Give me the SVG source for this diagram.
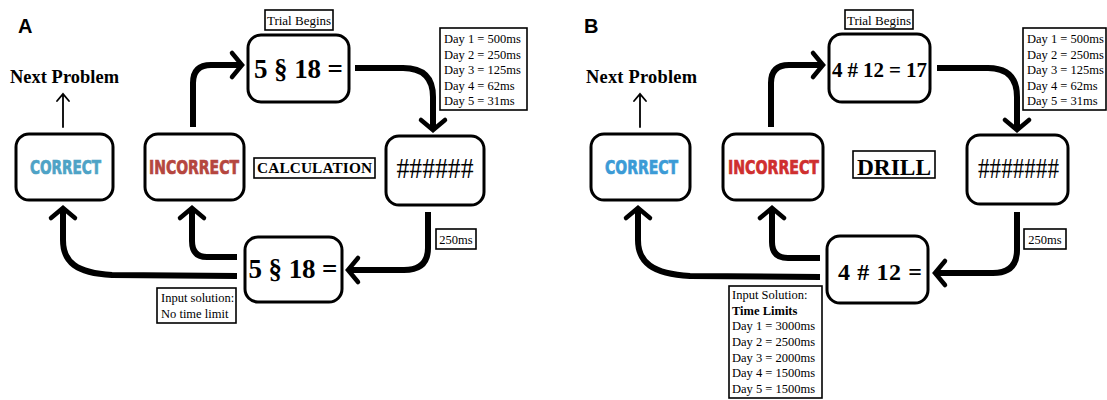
<svg xmlns="http://www.w3.org/2000/svg" width="1107" height="400" viewBox="0 0 1107 400">
<style>
.bg{fill:#fff}
.node{fill:#fff;stroke:#000;stroke-width:3}
.lbl{fill:#fff;stroke:#000;stroke-width:1.6}
.conn{fill:none;stroke:#000;stroke-width:6;stroke-linecap:butt;stroke-linejoin:round}
.thin{fill:none;stroke:#000;stroke-width:1.8;stroke-linecap:round}
.panel{font-family:"Liberation Sans",Arial,sans-serif;font-weight:bold;font-size:20px;fill:#000}
.serif{font-family:"Liberation Serif","Times New Roman",serif;fill:#000}
.eq{font-family:"Liberation Serif","Times New Roman",serif;font-weight:bold;fill:#000;text-anchor:middle}
.small{font-family:"Liberation Serif","Times New Roman",serif;font-size:12.5px;fill:#000}
.cond{font-family:"Liberation Sans Narrow","DejaVu Sans Condensed","Roboto Condensed",sans-serif;font-weight:bold;font-size:20px;stroke-width:0.7}
</style>
<defs>
<marker id="ah" markerUnits="userSpaceOnUse" markerWidth="30" markerHeight="30" viewBox="0 0 30 30" refX="15" refY="15" orient="auto" overflow="visible">
<path d="M5,3 L15,15 L5,27" fill="none" stroke="#000" stroke-width="4.5" stroke-linecap="round" stroke-linejoin="miter"/>
</marker>
</defs>
<rect class="bg" x="0" y="0" width="1107" height="400"/>

<!-- Panel labels -->
<text class="panel" x="18" y="33">A</text>
<text class="panel" x="584" y="33">B</text>

<!-- Connectors -->
<g id="connectors">
  <!-- Panel A -->
  <path class="conn" marker-end="url(#ah)" d="M193,127 L193,83 Q193,65 211,65 L242,65"/>
  <path class="conn" marker-end="url(#ah)" d="M355,68 L403,68 Q433,68 433,97 L433,130"/>
  <path class="conn" marker-end="url(#ah)" d="M428,212 L428,248 Q428,270 404,270 L348,270"/>
  <path class="conn" marker-end="url(#ah)" d="M237,257 L207,257 Q192,257 192,241 L192,208"/>
  <path class="conn" marker-end="url(#ah)" d="M237,276 L112,275 C76,273 63,262 63,240 L63,208"/>
  <path class="thin" d="M63,127 L63,94 M57,101 L63,94 L69,101"/>
  <!-- Panel B -->
  <path class="conn" marker-end="url(#ah)" d="M771,127 L771,83 Q771,65 789,65 L823,65"/>
  <path class="conn" marker-end="url(#ah)" d="M937,68 L988,68 Q1017,68 1017,97 L1017,130"/>
  <path class="conn" marker-end="url(#ah)" d="M1017,212 L1017,250 Q1017,273 993,273 L935,273"/>
  <path class="conn" marker-end="url(#ah)" d="M820,258 L788,258 Q772,258 772,242 L772,208"/>
  <path class="conn" marker-end="url(#ah)" d="M820,277 L690,276 C652,274 638,262 638,240 L638,208"/>
  <path class="thin" d="M640,127 L640,94 M634,101 L640,94 L646,101"/>
</g>

<!-- Panel A nodes -->
<g id="a-next">
  <text class="serif" x="10" y="83" font-size="18.4" font-weight="bold" textLength="109">Next Problem</text>
</g>
<g id="a-correct">
  <rect class="node" x="16" y="134" width="97" height="66" rx="13"/>
  <text class="cond" x="30" y="174" fill="#4ea3c6" stroke="#4ea3c6" textLength="71" lengthAdjust="spacingAndGlyphs">CORRECT</text>
</g>
<g id="a-incorrect">
  <rect class="node" x="145" y="134" width="99" height="66" rx="13"/>
  <text class="cond" x="149" y="174" fill="#b5463f" stroke="#b5463f" textLength="90" lengthAdjust="spacingAndGlyphs">INCORRECT</text>
</g>
<g id="a-trial">
  <rect class="lbl" x="265" y="10" width="68" height="20"/>
  <text class="serif" x="299" y="25" font-size="13" text-anchor="middle">Trial Begins</text>
</g>
<g id="a-problem">
  <rect class="node" x="248" y="35" width="101" height="67" rx="13"/>
  <text class="eq" x="298.5" y="78" font-size="27" textLength="89">5 § 18 =</text>
</g>
<g id="a-days">
  <rect class="lbl" x="440" y="28" width="87" height="82"/>
  <text class="small" x="444" y="43">Day 1 = 500ms</text>
  <text class="small" x="444" y="58.5">Day 2 = 250ms</text>
  <text class="small" x="444" y="74">Day 3 = 125ms</text>
  <text class="small" x="444" y="89.5">Day 4 = 62ms</text>
  <text class="small" x="444" y="105">Day 5 = 31ms</text>
</g>
<g id="a-calc">
  <rect class="lbl" x="254" y="158" width="121" height="20"/>
  <text class="eq" x="314.5" y="173" font-size="15.3" textLength="115">CALCULATION</text>
</g>
<g id="a-mask">
  <rect class="node" x="386" y="136" width="98" height="69" rx="13"/>
  <text class="serif" x="435" y="178" font-size="29" text-anchor="middle" textLength="77" lengthAdjust="spacingAndGlyphs">######</text>
</g>
<g id="a-250">
  <rect class="lbl" x="436" y="229" width="40" height="20"/>
  <text class="small" x="456" y="244" text-anchor="middle">250ms</text>
</g>
<g id="a-input">
  <rect class="node" x="245" y="237" width="97" height="65" rx="13"/>
  <text class="eq" x="293" y="278" font-size="27" textLength="89">5 § 18 =</text>
</g>
<g id="a-inputlabel">
  <rect class="lbl" x="157" y="288" width="79" height="35"/>
  <text class="small" x="161" y="302">Input solution:</text>
  <text class="small" x="161" y="318">No time limit</text>
</g>

<!-- Panel B nodes -->
<g id="b-next">
  <text class="serif" x="586" y="83" font-size="18.4" font-weight="bold" textLength="111">Next Problem</text>
</g>
<g id="b-correct">
  <rect class="node" x="591" y="134" width="99" height="66" rx="13"/>
  <text class="cond" x="605" y="174" fill="#3b9bd6" stroke="#3b9bd6" textLength="73" lengthAdjust="spacingAndGlyphs">CORRECT</text>
</g>
<g id="b-incorrect">
  <rect class="node" x="723" y="134" width="100" height="66" rx="13"/>
  <text class="cond" x="728" y="174" fill="#cf2f2f" stroke="#cf2f2f" textLength="91" lengthAdjust="spacingAndGlyphs">INCORRECT</text>
</g>
<g id="b-trial">
  <rect class="lbl" x="845" y="10" width="68" height="19"/>
  <text class="serif" x="879" y="24.5" font-size="13" text-anchor="middle">Trial Begins</text>
</g>
<g id="b-problem">
  <rect class="node" x="829" y="34" width="101" height="68" rx="13"/>
  <text class="eq" x="879.5" y="77" font-size="21" textLength="95">4 # 12 = 17</text>
</g>
<g id="b-days">
  <rect class="lbl" x="1023" y="28" width="83" height="82"/>
  <text class="small" x="1027" y="43">Day 1 = 500ms</text>
  <text class="small" x="1027" y="58.5">Day 2 = 250ms</text>
  <text class="small" x="1027" y="74">Day 3 = 125ms</text>
  <text class="small" x="1027" y="89.5">Day 4 = 62ms</text>
  <text class="small" x="1027" y="105">Day 5 = 31ms</text>
</g>
<g id="b-drill">
  <rect class="lbl" x="853" y="151" width="82" height="27"/>
  <text class="eq" x="894" y="175" font-size="23.4" textLength="74">DRILL</text>
</g>
<g id="b-mask">
  <rect class="node" x="967" y="135" width="101" height="69" rx="13"/>
  <text class="serif" x="1018.5" y="178" font-size="29" text-anchor="middle" textLength="81" lengthAdjust="spacingAndGlyphs">#######</text>
</g>
<g id="b-250">
  <rect class="lbl" x="1024" y="229" width="42" height="20"/>
  <text class="small" x="1045" y="244" text-anchor="middle">250ms</text>
</g>
<g id="b-input">
  <rect class="node" x="827" y="236" width="101" height="67" rx="13"/>
  <text class="eq" x="880" y="280" font-size="24" textLength="84">4 # 12 =</text>
</g>
<g id="b-inputlabel">
  <rect class="lbl" x="729" y="286" width="93" height="112"/>
  <text class="small" x="732" y="298.5" font-size="13">Input Solution:</text>
  <text class="small" x="732" y="314.5" font-size="13" font-weight="bold">Time Limits</text>
  <text class="small" x="732" y="330" font-size="13">Day 1 = 3000ms</text>
  <text class="small" x="732" y="346" font-size="13">Day 2 = 2500ms</text>
  <text class="small" x="732" y="361.5" font-size="13">Day 3 = 2000ms</text>
  <text class="small" x="732" y="377" font-size="13">Day 4 = 1500ms</text>
  <text class="small" x="732" y="393" font-size="13">Day 5 = 1500ms</text>
</g>
</svg>
